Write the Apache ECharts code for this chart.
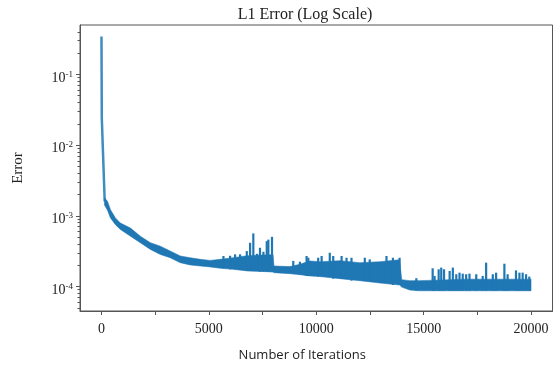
<!DOCTYPE html>
<html>
<head>
<meta charset="utf-8">
<script src="https://cdn.jsdelivr.net/npm/echarts@6/dist/echarts.min.js"></script>
<style>
  html, body { margin: 0; padding: 0; background: #fff; }
  #chart { width: 554px; height: 367px; }
</style>
</head>
<body>
<div id="chart"></div>
<script>
// initial steep drop of the error (iteration, error)
var dropIters = [0, 15, 80, 150];
var dropErrors = [0.345, 0.024, 0.0065, 0.0016];

// envelope of the noisy error band after the drop
var bandIters = [140, 280, 420, 650, 880, 1350, 1810, 2280, 2740, 3200, 3670, 4130, 4600, 5060, 5530, 6130, 6780, 7700, 7990, 8030, 8780, 9240, 9700, 10170, 11100, 12030, 12960, 13880, 13980, 14350, 14810, 17000, 20000];
var bandUpper = [1.8e-3, 1.6e-3, 1.22e-3, 9.3e-4, 7.9e-4, 6.7e-4, 5.15e-4, 4.15e-4, 3.72e-4, 3.17e-4, 2.7e-4, 2.55e-4, 2.42e-4, 2.34e-4, 2.42e-4, 2.55e-4, 2.72e-4, 2.8e-4, 2.8e-4, 1.95e-4, 1.91e-4, 2.06e-4, 2.3e-4, 2.24e-4, 2.32e-4, 2.17e-4, 2.24e-4, 2.39e-4, 1.25e-4, 1.21e-4, 1.21e-4, 1.27e-4, 1.27e-4];
var bandLower = [1.42e-3, 1.2e-3, 9.3e-4, 7.5e-4, 6.4e-4, 5.15e-4, 4.15e-4, 3.34e-4, 2.84e-4, 2.55e-4, 2.17e-4, 2.02e-4, 1.95e-4, 1.89e-4, 1.81e-4, 1.75e-4, 1.66e-4, 1.62e-4, 1.6e-4, 1.57e-4, 1.52e-4, 1.47e-4, 1.41e-4, 1.38e-4, 1.29e-4, 1.21e-4, 1.12e-4, 1.05e-4, 9.8e-5, 8.9e-5, 8.7e-5, 8.7e-5, 8.7e-5];

// spikes sticking out of the band
var spikeIters = [5680, 5990, 6220, 6455, 6765, 6920, 7070, 7240, 7380, 7540, 7695, 7770, 7940,
  8930, 9240, 9550, 9630, 10090, 10250, 10630, 10790, 11180, 11410, 11640, 12260, 12490, 13270, 13570, 13880,
  14660, 15420, 15510, 15700, 15820, 15950, 16210, 16360, 16520, 16670, 16820, 16980, 17135, 17450, 17750, 17910,
  18220, 18375, 18760, 18910, 19300, 19460, 19610, 19770, 19920];
var spikeTops = [2.7e-4, 2.72e-4, 2.85e-4, 2.85e-4, 3.17e-4, 4.15e-4, 5.64e-4, 2.9e-4, 3.53e-4, 3.1e-4, 4.38e-4, 4.6e-4, 5.04e-4,
  2.3e-4, 2.24e-4, 2.7e-4, 2.55e-4, 2.55e-4, 2.7e-4, 3.0e-4, 2.7e-4, 2.7e-4, 2.55e-4, 2.55e-4, 2.55e-4, 2.42e-4, 2.7e-4, 2.55e-4, 2.55e-4,
  1.31e-4, 1.81e-4, 1.41e-4, 1.75e-4, 1.85e-4, 1.75e-4, 1.66e-4, 1.85e-4, 1.49e-4, 1.57e-4, 1.52e-4, 1.49e-4, 1.52e-4, 1.49e-4, 1.41e-4, 2.17e-4,
  1.49e-4, 1.57e-4, 2.1e-4, 1.49e-4, 1.69e-4, 1.57e-4, 1.57e-4, 1.49e-4, 1.38e-4];

var xTicks = [0, 2500, 5000, 7500, 10000, 12500, 15000, 17500, 20000];
var xLabels = [0, 5000, 10000, 15000, 20000];
var yMajor = [1e-4, 1e-3, 1e-2, 1e-1];

var yMin = 4.5e-5, yMax = 0.5;
var blue = '#1f77b4';
var serif = '"Liberation Serif", "DejaVu Serif", serif';

// minor ticks at 2..9 x 10^n, placed on a helper linear axis in log10 units
var yMinor = [];
for (var n = -5; n <= 0; n++) {
  for (var k = 2; k <= 9; k++) {
    var v = k * Math.pow(10, n);
    if (v > yMin && v < yMax) yMinor.push(Math.log10(v));
  }
}

function lowerAt(it) {
  var best = 0;
  for (var i = 1; i < bandIters.length; i++) {
    if (Math.abs(bandIters[i] - it) < Math.abs(bandIters[best] - it)) best = i;
  }
  return bandLower[best];
}

var bandData = bandIters.map(function (it, i) { return [it, bandUpper[i], bandLower[i]]; });
var spikeData = spikeIters.map(function (it, i) { return [it, spikeTops[i], lowerAt(it)]; });
var dropData = dropIters.map(function (it, i) { return [it, dropErrors[i]]; });

var chart = echarts.init(document.getElementById('chart'));

var option = {
  animation: false,
  title: {
    text: 'L1 Error (Log Scale)',
    left: 300,
    textAlign: 'center',
    top: 2,
    textStyle: { fontFamily: serif, fontSize: 16, fontWeight: 'normal', color: '#222' }
  },
  grid: {
    left: 80, right: 1.5, top: 25, bottom: 54,
    show: true, borderColor: '#555', borderWidth: 1, backgroundColor: '#fff'
  },
  xAxis: {
    type: 'value',
    min: -1000,
    max: 21000,
    name: 'Number of Iterations',
    nameLocation: 'middle',
    nameGap: 38,
    nameTextStyle: {
      fontFamily: '"Open Sans", "Noto Sans", sans-serif', fontSize: 13, color: '#222',
      padding: [0, 28, 0, 0]
    },
    axisLine: { show: true, onZero: false, lineStyle: { color: '#555', width: 1 } },
    axisTick: { show: true, customValues: xTicks, length: 4, lineStyle: { color: '#555' } },
    axisLabel: {
      customValues: xLabels,
      fontFamily: serif, fontSize: 14, color: '#222', margin: 11,
      formatter: function (v) { return String(v); }
    },
    splitLine: { show: false }
  },
  yAxis: [
    {
      type: 'log',
      logBase: 10,
      min: yMin,
      max: yMax,
      name: 'Error',
      nameLocation: 'middle',
      nameGap: 54,
      nameTextStyle: { fontFamily: serif, fontSize: 15, color: '#222' },
      axisLine: { show: true, onZero: false, lineStyle: { color: '#555', width: 1 } },
      axisTick: { show: true, customValues: yMajor, length: 4, lineStyle: { color: '#555' } },
      axisLabel: {
        customValues: yMajor,
        margin: 7,
        color: '#222',
        padding: [7, 0, 0, 0],
        formatter: function (v) {
          return '{b|10}{s|' + Math.round(Math.log10(v)) + '}';
        },
        rich: {
          b: { fontFamily: serif, fontSize: 14, color: '#222' },
          s: { fontFamily: serif, fontSize: 9, color: '#222', padding: [0, 0, 7, 0] }
        }
      },
      splitLine: { show: false }
    },
    {
      type: 'value',
      min: Math.log10(yMin),
      max: Math.log10(yMax),
      position: 'left',
      axisLine: { show: false, onZero: false },
      axisTick: { show: true, customValues: yMinor, length: 2.5, lineStyle: { color: '#555' } },
      axisLabel: { show: false },
      splitLine: { show: false }
    }
  ],
  series: [
    {
      type: 'custom',
      name: 'band',
      data: bandData,
      encode: { x: 0, y: [1, 2] },
      renderItem: function (params, api) {
        if (params.dataIndex !== 0) return;
        var pts = [];
        for (var i = 0; i < bandIters.length; i++) pts.push(api.coord([bandIters[i], bandUpper[i]]));
        for (var j = bandIters.length - 1; j >= 0; j--) pts.push(api.coord([bandIters[j], bandLower[j]]));
        return {
          type: 'polygon',
          shape: { points: pts },
          style: { fill: blue, stroke: 'rgba(31,119,180,0.55)', lineWidth: 1 }
        };
      }
    },
    {
      type: 'custom',
      name: 'spikes',
      data: spikeData,
      encode: { x: 0, y: [1, 2] },
      renderItem: function (params, api) {
        var top = api.coord([api.value(0), api.value(1)]);
        var base = api.coord([api.value(0), api.value(2)]);
        return {
          type: 'line',
          shape: { x1: top[0], y1: top[1], x2: base[0], y2: base[1] },
          style: { stroke: blue, lineWidth: 2.2 }
        };
      }
    },
    {
      type: 'line',
      name: 'drop',
      data: dropData,
      showSymbol: false,
      symbol: 'none',
      lineStyle: { color: blue, width: 2.5, opacity: 0.85 }
    }
  ]
};

chart.setOption(option);
</script>
</body>
</html>
